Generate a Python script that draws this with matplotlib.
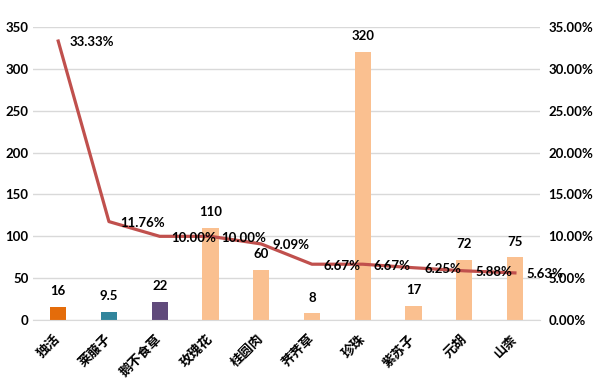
import matplotlib.pyplot as plt
import numpy as np
from matplotlib.ticker import FuncFormatter

plt.rcParams['font.family'] = ['Lato', 'Noto Sans CJK SC', 'DejaVu Sans']
plt.rcParams['font.weight'] = 'bold'

#%% DATA
herbs = ['独活', '莱菔子', '鹅不食草', '玫瑰花', '桂圆肉', '荠荠草', '珍珠', '紫苏子', '元胡', '山柰']
amount = [16, 9.5, 22, 110, 60, 8, 320, 17, 72, 75]
share = [0.3333, 0.1176, 0.1000, 0.1000, 0.0909, 0.0667, 0.0667, 0.0625, 0.0588, 0.0563]
bar_colors = ['#E46C0A', '#31859C', '#604A7B'] + ['#FAC090'] * 7

FS = 9.5

#%% PLOT
fig = plt.figure(figsize=(5.97, 3.81), dpi=100)
ax = fig.add_axes([0.055, 0.16, 0.85, 0.769])
x = np.arange(len(herbs))

ax.bar(x, amount, width=0.32, color=bar_colors, zorder=2)
for xi, v in zip(x, amount):
    ax.annotate('{:g}'.format(v), (xi, v), xytext=(0, 7), textcoords='offset points',
                ha='center', va='bottom', fontsize=FS, fontweight='bold')

ax.set_xlim(-0.5, len(herbs) - 0.5)
ax.set_ylim(0, 350)
ax.set_yticks(range(0, 351, 50))
ax.grid(axis='y', color='#D9D9D9', linewidth=1, zorder=0)
ax.set_axisbelow(True)
for s in ['top', 'left', 'right']:
    ax.spines[s].set_visible(False)
ax.spines['bottom'].set_color('#D9D9D9')
ax.tick_params(axis='both', length=0, labelsize=FS)
ax.tick_params(axis='y', pad=3)
ax.set_xticks(x)
ax.set_xticklabels(herbs, rotation=45, ha='right', va='center', rotation_mode='anchor',
                   fontsize=FS, fontweight='bold')
ax.tick_params(axis='x', pad=12)

ax2 = ax.twinx()
ax2.plot(x, share, color='#C0504D', linewidth=2.3, zorder=3)
for xi, v in zip(x, share):
    ax2.annotate('{:.2f}%'.format(v * 100), (xi, v), xytext=(8, -1), textcoords='offset points',
                 ha='left', va='center', fontsize=FS, fontweight='bold')
ax2.set_ylim(0, 0.35)
ax2.set_yticks(np.arange(0, 0.351, 0.05))
ax2.yaxis.set_major_formatter(FuncFormatter(lambda v, p: '{:.2f}%'.format(v * 100)))
for s in ['top', 'left', 'right', 'bottom']:
    ax2.spines[s].set_visible(False)
ax2.tick_params(axis='y', length=0, labelsize=FS, pad=6)

plt.savefig('out.png', dpi=100)
